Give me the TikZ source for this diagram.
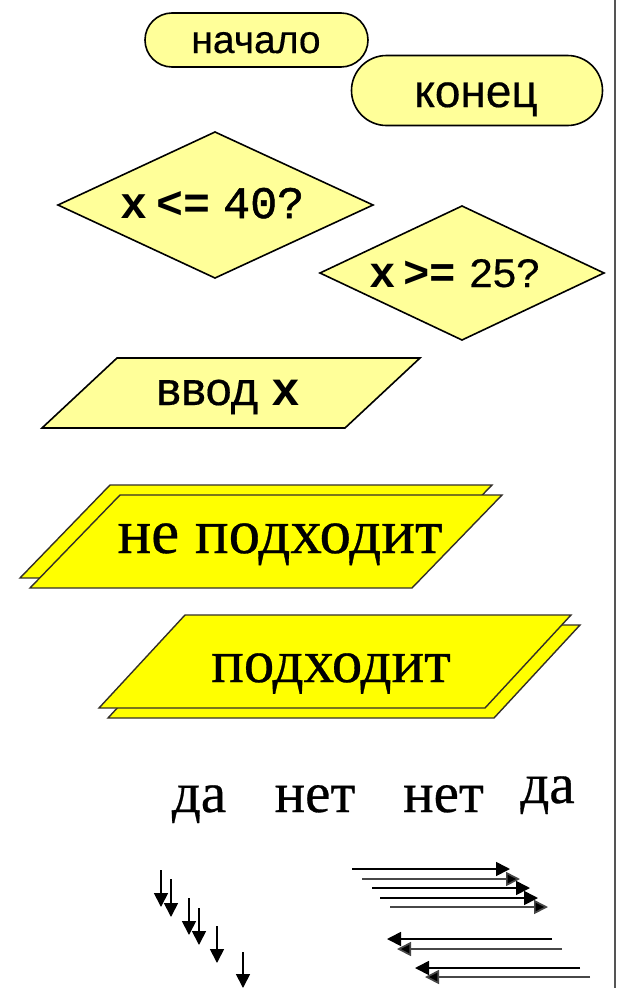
\documentclass[tikz,border=0pt]{standalone}
\usepackage{fontspec}
\setmainfont[FakeBold=0.5]{Liberation Serif}
\newfontfamily\arialf[FakeBold=0.4]{Liberation Sans}
\newfontfamily\courf{Liberation Mono}
\newfontfamily\courmid[FakeBold=1.2]{Liberation Mono}
\usetikzlibrary{arrows.meta,shapes.misc}
\definecolor{paleyellow}{RGB}{255,255,153}
\definecolor{brightyellow}{RGB}{255,255,0}
\definecolor{rulegray}{RGB}{85,85,85}
\begin{document}
\begin{tikzpicture}[x=1pt,y=-1pt,
  outline/.style={draw=black, line width=1.6pt, line join=miter},
  pale/.style={outline, fill=paleyellow},
  brightbox/.style={draw=black!85!olive, line width=1.4pt, fill=brightyellow, line join=miter},
  term/.style={pale, rounded rectangle, inner sep=0pt},
  lbl/.style={inner sep=0pt, anchor=base},
  arr/.style={line width=1.7pt, -{Triangle[length=14pt,width=14pt]}},
  arrg/.style={arr, draw=black!72, -{Triangle[length=14pt,width=14pt,fill=black]}}
]
\path[use as bounding box] (0,0) rectangle (621,988);
\fill[white] (0,0) rectangle (621,988);

% right rule
\coordinate (ruletop) at (615,0);
\coordinate (rulebot) at (615,988);
\draw[line width=2pt, rulegray] (ruletop) -- (rulebot);

% terminators
\node[term, minimum width=223pt, minimum height=54pt] (start) at (256.5,40) {};
\node[lbl, font=\arialf\fontsize{39}{39}\selectfont] (starttext) at (256,53) {начало};
\node[term, minimum width=251pt, minimum height=70pt] (stop) at (477,90.5) {};
\node[lbl, font=\arialf\fontsize{46}{46}\selectfont] (stoptext) at (476,107) {конец};

% decisions
\coordinate (d1w) at (58,205); \coordinate (d1n) at (215,132);
\coordinate (d1e) at (373,205); \coordinate (d1s) at (215,278);
\draw[pale] (d1w) -- (d1n) -- (d1e) -- (d1s) -- cycle;
\node[lbl, anchor=base west, font=\courf\fontsize{45}{45}\selectfont] (q1) at (120,218)
  {{\bfseries x}\hspace{9pt}{\bfseries <=}\hspace{13pt}{\courmid 40?}};

\coordinate (d2w) at (320,273); \coordinate (d2n) at (462,206);
\coordinate (d2e) at (604,273); \coordinate (d2s) at (462,340);
\draw[pale] (d2w) -- (d2n) -- (d2e) -- (d2s) -- cycle;
\node[lbl, anchor=base west, font=\courf\bfseries\fontsize{44}{44}\selectfont] (q2) at (369,287)
  {x\hspace{8pt}>=\hspace{13pt}\scalebox{1.05}[1]{\arialf\mdseries\fontsize{40}{40}\selectfont 25?}};

% input
\coordinate (i1) at (117,358); \coordinate (i2) at (420,358);
\coordinate (i3) at (345,428); \coordinate (i4) at (42,428);
\draw[pale] (i1) -- (i2) -- (i3) -- (i4) -- cycle;
\node[lbl, anchor=base west] (intext) at (156,405) {\arialf\fontsize{47}{47}\selectfont ввод \courf\bfseries\fontsize{48}{48}\selectfont x};

% output "не подходит"
\coordinate (a1) at (110,485); \coordinate (a2) at (492,485);
\coordinate (a3) at (402,578); \coordinate (a4) at (20,578);
\draw[brightbox] (a1) -- (a2) -- (a3) -- (a4) -- cycle;
\coordinate (b1) at (120,495); \coordinate (b2) at (502,495);
\coordinate (b3) at (412,588); \coordinate (b4) at (30,588);
\draw[brightbox] (b1) -- (b2) -- (b3) -- (b4) -- cycle;
\node[lbl, font=\fontsize{63}{63}\selectfont] (notok) at (280,553) {не подходит};

% output "подходит"
\coordinate (c1) at (194,625); \coordinate (c2) at (580,625);
\coordinate (c3) at (494,718); \coordinate (c4) at (108,718);
\draw[brightbox] (c1) -- (c2) -- (c3) -- (c4) -- cycle;
\coordinate (e1) at (185,615); \coordinate (e2) at (571,615);
\coordinate (e3) at (485,708); \coordinate (e4) at (99,708);
\draw[brightbox] (e1) -- (e2) -- (e3) -- (e4) -- cycle;
\node[lbl, font=\fontsize{61}{61}\selectfont] (ok) at (331,682) {подходит};

% yes / no labels
\begin{scope}[every node/.style={lbl, font=\fontsize{57}{57}\selectfont}]
\node (yes1) at (199,812) {да};
\node (no1) at (315,812) {нет};
\node (no2) at (443.5,812) {нет};
\node (yes2) at (547.5,803) {да};
\end{scope}

% down arrows
\foreach \i/\x/\ya/\yb in {1/161/870/907, 2/171/879/917, 3/189/898/935, 4/199/908/945, 5/217/926/963, 6/243/952/988}{
  \coordinate (dn\i a) at (\x,\ya);
  \coordinate (dn\i b) at (\x,\yb);
  \draw[arr] (dn\i a) -- (dn\i b);
}
% right arrows
\foreach \i/\y/\xa/\xb/\st in {1/869/352/510/arr, 2/879/362/520/arrg, 3/888/372/530/arr, 4/898/380/538/arr, 5/907/390/548/arrg}{
  \coordinate (rt\i a) at (\xa,\y);
  \coordinate (rt\i b) at (\xb,\y);
  \draw[\st] (rt\i a) -- (rt\i b);
}
% left arrows
\foreach \i/\y/\xa/\xb/\st in {1/939/552/387/arr, 2/949/562/397/arrg, 3/968/580/415/arr, 4/977/590/425/arrg}{
  \coordinate (lt\i a) at (\xa,\y);
  \coordinate (lt\i b) at (\xb,\y);
  \draw[\st] (lt\i a) -- (lt\i b);
}
\end{tikzpicture}
\end{document}
